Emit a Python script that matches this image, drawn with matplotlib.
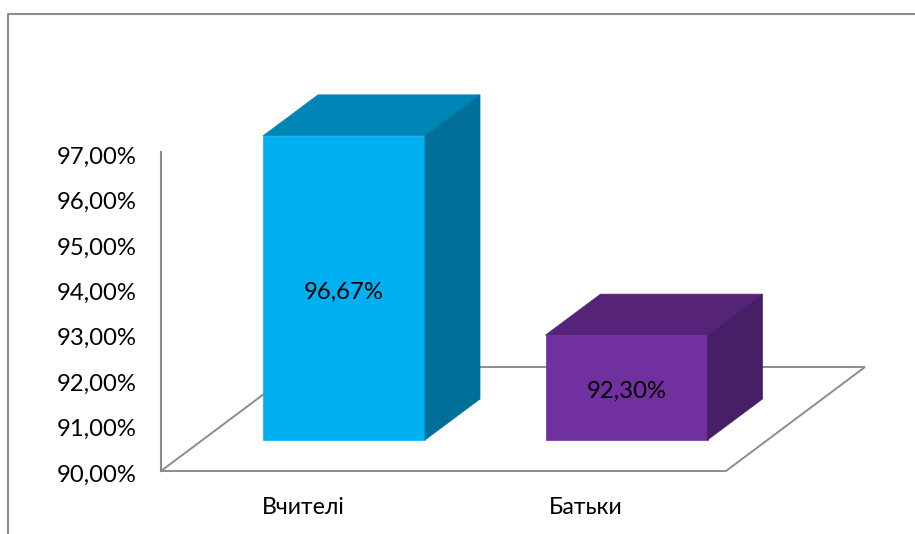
import matplotlib
matplotlib.use("Agg")
import matplotlib.pyplot as plt
from matplotlib.transforms import Affine2D

categories = ["Вчителі", "Батьки"]
values = [96.67, 92.30]
value_labels = ["96,67%", "92,30%"]
tick_values = [90, 91, 92, 93, 94, 95, 96, 97]
tick_labels = ["90,00%", "91,00%", "92,00%", "93,00%", "94,00%", "95,00%", "96,00%", "97,00%"]
front_colors = ["#00B0F0", "#7030A0"]
top_colors = ["#0086B6", "#552478"]
side_colors = ["#00709A", "#471F66"]

W, H = 915, 534
plt.rcParams["font.family"] = ["Lato", "DejaVu Sans"]
fig = plt.figure(figsize=(W / 100, H / 100), dpi=100)
ax = fig.add_axes([0, 0, 1, 1])
ax.axis("off")

# scale: 45.6 px per percent, category spacing 282.5 px
PX_V = 45.6
PX_C = 282.5
BASE_PX = 440
C0_PX = 344
ax.set_xlim(-C0_PX / PX_C, (W - C0_PX) / PX_C)
ax.set_ylim(90 - (H - BASE_PX) / PX_V, 90 + BASE_PX / PX_V)

bar_w = 162 / PX_C
dx = 55 / PX_C
dy = 41 / PX_V
GREY = "#8C8C8C"

# pixel-space transform (y down) for frame and floor
px = Affine2D().scale(1, -1).translate(0, H)

# outer chart frame (top and left edges only visible)
ax.plot([8, 8, 915], [534, 14, 14], color=GREY, lw=1.5, transform=px, clip_on=False)

# floor plane
ax.plot([161, 726, 865, 300, 161], [471, 471, 367, 367, 471], color=GREY, lw=1.4,
        transform=px, solid_joinstyle="miter", zorder=1)
# wall axis line
ax.plot([161, 161], [152, 471], color=GREY, lw=1.5, transform=px, zorder=1)

# y tick labels
for v, lab in zip(tick_values, tick_labels):
    ypx = 472 - (v - 90) * 45.4
    ax.text(136.5, ypx + 1, lab, transform=px, ha="right", va="center_baseline",
            fontsize=17.2, color="black")

for i, (v, f, t, s, lab, cat) in enumerate(zip(values, front_colors, top_colors, side_colors,
                                               value_labels, categories)):
    l, r = i - bar_w / 2, i + bar_w / 2
    ax.fill([l, r, r, l], [90, 90, v, v], color=f, lw=0.5, zorder=3)
    ax.fill([l, r, r + dx, l + dx], [v, v, v + dy, v + dy], color=t, lw=0.5, zorder=3)
    ax.fill([r, r + dx, r + dx, r], [90, 90 + dy, v + dy, v], color=s, lw=0.5, zorder=3)
    ax.text(i, (90 + v) / 2 - 2 / PX_V, lab, ha="center", va="center_baseline",
            fontsize=17.2, color="black", zorder=4)
    ax.text(i - 41 / PX_C, 90 - 65 / PX_V, cat, ha="center", va="center_baseline",
            fontsize=16.6, color="black")

fig.savefig("out.png", dpi=100)
